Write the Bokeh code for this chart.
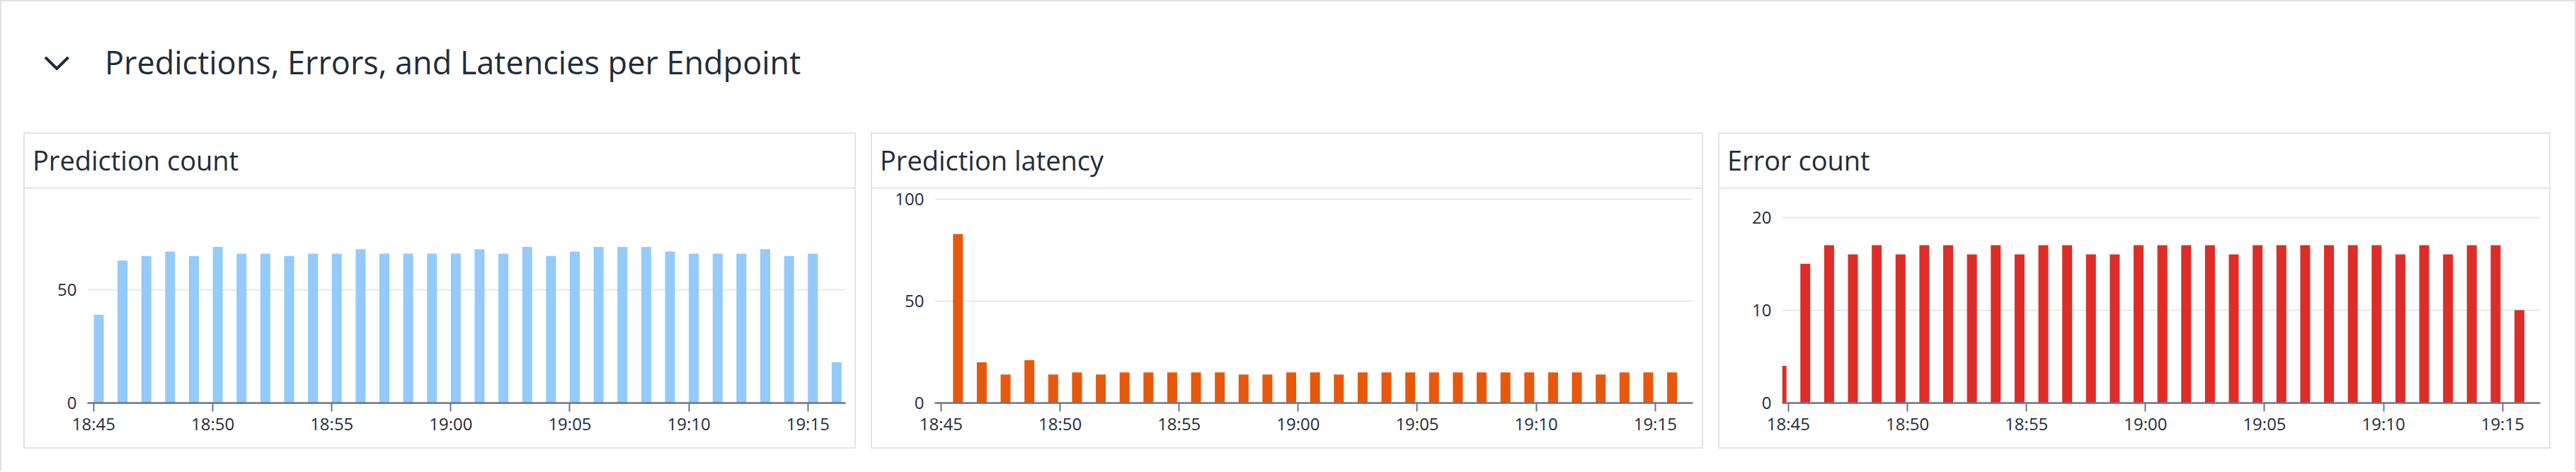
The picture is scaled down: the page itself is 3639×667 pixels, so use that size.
import pandas as pd
from bokeh.plotting import figure
from bokeh.models import FixedTicker, DatetimeTickFormatter, Range1d, Div, Spacer
from bokeh.layouts import column, row
from bokeh.embed import file_html
from bokeh.resources import INLINE

# ---------------- data ----------------
section_title = "Predictions, Errors, and Latencies per Endpoint"
panel_titles = ["Prediction count", "Prediction latency", "Error count"]

day = "2024-01-01"
count_start = "18:45:00"
latency_start = "18:45:30"
error_start = "18:44:30"

count_values = [39, 63, 65, 67, 65, 69, 66, 66, 65, 66,
                66, 68, 66, 66, 66, 66, 68, 66, 69, 65,
                67, 69, 69, 69, 67, 66, 66, 66, 68, 65,
                66, 18]
latency_values = [83, 20, 14, 21, 14, 15, 14, 15, 15, 15,
                  15, 15, 14, 14, 15, 15, 14, 15, 15, 15,
                  15, 15, 15, 15, 15, 15, 15, 14, 15, 15,
                  15]
error_values = [4, 15, 17, 16, 17, 16, 17, 17, 16, 17,
                16, 17, 17, 16, 16, 17, 17, 17, 17, 16,
                17, 17, 17, 17, 17, 17, 16, 17, 16, 17,
                17, 10]

x_tick_labels = ["18:45", "18:50", "18:55", "19:00", "19:05", "19:10", "19:15"]
x_window = ["18:44:44", "19:16:35"]
count_y_ticks = [0, 50]
latency_y_ticks = [0, 50, 100]
error_y_ticks = [0, 10, 20]
count_y_max = 92
latency_y_max = 102.2
error_y_max = 22.4

# ---------------- styles ----------------
FONT = "Open Sans"
TEXT = "#1f2d3a"
AXIS = "#6e7385"
GRID = "#e2e2e2"
PANEL_LINE = "#e1e3ee"
OUTER_BORDER = "2px solid #e2e2e2"
BAR_SECONDS = 25


def ms(series_like):
    ts = pd.to_datetime(series_like)
    return list((ts - pd.Timestamp("1970-01-01")) // pd.Timedelta("1ms"))


def times_from(start, n):
    return pd.date_range(f"{day} {start}", periods=n, freq="min")


x_ticks_ms = ms([f"{day} {t}" for t in x_tick_labels])
x0_ms, x1_ms = ms([f"{day} {t}" for t in x_window])


def text_block(txt, size, line_height="normal"):
    return (f"<div style=\"font-family:'{FONT}';font-size:{size};color:{TEXT};"
            f"line-height:{line_height};white-space:nowrap;margin:0;padding:0;\">{txt}</div>")


def title_div(title):
    return Div(text=text_block(title, "38px"), width=1161, height=65,
               margin=(11, 0, 0, 11))


def separator():
    return Div(text="", width=1172, height=2, margin=0,
               styles={"background-color": PANEL_LINE})


def chart_fig(start, values, color, y_max, y_ticks):
    t = times_from(start, len(values))
    p = figure(width=1172, height=365, toolbar_location=None, output_backend="svg",
               x_axis_type="datetime",
               x_range=Range1d(x0_ms, x1_ms), y_range=Range1d(0, y_max),
               min_border_left=88, min_border_right=13, min_border_top=8,
               min_border_bottom=63, outline_line_color=None,
               background_fill_color="white", border_fill_color="white",
               margin=0)
    p.vbar(x=t + pd.Timedelta(seconds=BAR_SECONDS / 2), width=BAR_SECONDS * 1000,
           top=values, bottom=0, fill_color=color, line_color=None)

    xa = p.xaxis[0]
    xa.ticker = FixedTicker(ticks=x_ticks_ms)
    xa.formatter = DatetimeTickFormatter(minutes="%H:%M", hourmin="%H:%M",
                                         hours="%H:%M", minsec="%H:%M")
    xa.axis_line_color = AXIS
    xa.axis_line_width = 2.5
    xa.major_tick_line_color = AXIS
    xa.major_tick_line_width = 2
    xa.major_tick_in = 0
    xa.major_tick_out = 12
    xa.minor_tick_line_color = None
    xa.major_label_text_font = FONT
    xa.major_label_text_font_size = "24px"
    xa.major_label_text_color = TEXT
    xa.major_label_standoff = 0

    ya = p.yaxis[0]
    ya.ticker = FixedTicker(ticks=y_ticks)
    ya.axis_line_color = None
    ya.major_tick_line_color = None
    ya.minor_tick_line_color = None
    ya.major_label_text_font = FONT
    ya.major_label_text_font_size = "24px"
    ya.major_label_text_color = TEXT
    ya.major_label_standoff = 9

    p.xgrid.grid_line_color = None
    p.ygrid.ticker = FixedTicker(ticks=y_ticks)
    p.ygrid.grid_line_color = GRID
    p.ygrid.grid_line_width = 1.5
    return p


def panel(title, start, values, color, y_max, y_ticks):
    return column(title_div(title), separator(),
                  chart_fig(start, values, color, y_max, y_ticks),
                  spacing=0, margin=0,
                  styles={"border": f"2px solid {PANEL_LINE}", "background": "white"})


chevron = Div(text=(
    '<svg width="130" height="185" xmlns="http://www.w3.org/2000/svg">'
    f'<polyline points="62,79 78.3,95 94.5,79" fill="none" stroke="{TEXT}" '
    'stroke-width="4" stroke-linejoin="miter" stroke-linecap="butt"/></svg>'),
    width=130, height=185, margin=0)
heading = Div(text=text_block(section_title, "45px", "91px"), width=3489, height=145,
              margin=(40, 0, 0, 16))

panels = row(
    panel(panel_titles[0], count_start, count_values, "#94cafc", count_y_max, count_y_ticks),
    panel(panel_titles[1], latency_start, latency_values, "#e8580c", latency_y_max, latency_y_ticks),
    panel(panel_titles[2], error_start, error_values, "#de2d28", error_y_max, error_y_ticks),
    spacing=21, margin=(0, 34, 0, 31))

root = column(row(chevron, heading, spacing=0, margin=0), panels,
              Spacer(width=10, height=31, margin=0), spacing=0, margin=0,
              styles={"border-top": OUTER_BORDER, "border-left": OUTER_BORDER,
                      "border-right": OUTER_BORDER, "background": "white"})

open("out.html", "w").write(file_html(root, INLINE))
